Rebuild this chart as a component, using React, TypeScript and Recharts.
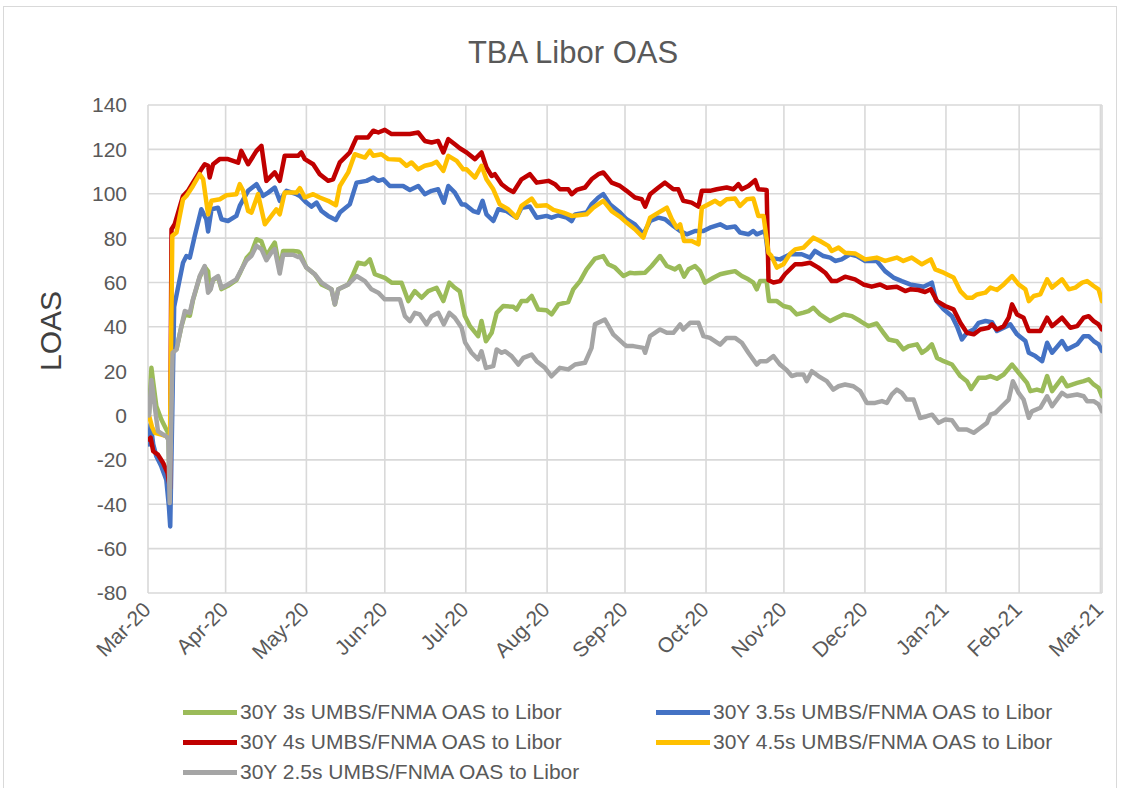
import React from "react";
import { LineChart, Line, XAxis, YAxis, CartesianGrid } from "recharts";

// x = position on the date axis, in days after 1 Mar 2020
const monthTicks = [0, 29.7, 60.6, 90.6, 121.6, 152.7, 182.5, 213.5, 243.3, 274.3, 305.3, 333.3, 364.4];
const monthLabels = ["Mar-20", "Apr-20", "May-20", "Jun-20", "Jul-20", "Aug-20", "Sep-20", "Oct-20", "Nov-20", "Dec-20", "Jan-21", "Feb-21", "Mar-21"];
const yTicks = [-80, -60, -40, -20, 0, 20, 40, 60, 80, 100, 120, 140];

const green3s: number[][] = [
  [0.4, 1], [1.3, 21.5], [2, 15], [3.2, 4.2], [5.1, -1.8], [7, -6.3], [7.8, -8], [8.3, -37], [9.4, 28.5], [10.9, 30], [12.8, 40.3], [14.1, 45.5], [16, 45], [17.2, 52], [19.8, 62.5], [21.7, 67], [23, 65], [23.6, 56.5], [24.9, 61], [26.8, 62.5], [28.1, 57], [30.6, 58.5], [33.8, 61], [35.1, 64], [37.7, 71], [39.6, 73.5], [41.5, 79.5], [43.4, 78.5], [45.3, 72], [47.2, 75.7], [48.5, 78], [50.4, 66], [51.7, 74.2], [55.5, 74.2], [57.4, 74],
  [58.1, 73.4], [60.6, 66.7], [63.8, 63.7], [66.4, 59.1], [70.2, 56.9], [71.5, 50.1], [72.8, 56.9], [76.6, 59.1], [78.5, 63.7], [80.4, 68.9], [83, 68.2], [84.9, 70.4], [86.8, 63.7], [90.6, 62.1], [93.2, 59.9], [97, 59.9], [99.6, 51.6], [102.1, 56.1], [104.7, 53.1], [107.2, 56.1], [110.4, 57.6], [113, 51.6], [115.3, 59.9], [117.4, 57.6], [119.3, 56], [121.2, 45], [123.2, 40.3], [126.3, 35.8], [127.6, 42.6], [129.3, 33.5], [131.5, 37.3], [133.4, 46.3], [135.9, 49.4], [139.8, 49], [141, 47.8], [142.9, 51.6], [144.9, 51.6], [146.8, 53.9], [149.3, 47.8], [152.5, 47.5], [154.4, 45.6], [157, 50.1], [160.8, 51.2], [162.7, 56.9], [165.3, 60.6], [167.8, 65.9], [171, 70.7], [174.2, 71.9], [176.1, 68.2], [178.7, 66.7], [181.9, 62.9], [184.4, 64.4],
  [186.3, 64.1], [190.2, 64.4], [192.7, 67.4], [195.9, 71.9], [198.5, 67.4], [201.6, 65.9], [203.3, 67.4], [205.1, 62.6], [206.8, 65.9], [209.3, 67.4], [211.2, 65.1], [213.1, 59.9], [216.3, 62.1], [218.9, 63.7], [221.4, 64.4], [224.6, 65.1], [227.2, 62.9], [229.7, 61.4], [231.6, 59.9], [232.9, 56.9], [234.2, 60.6], [236.7, 60.6], [237.6, 51.6], [240.6, 51.6], [243.1, 49.4], [245.7, 48.6], [248.2, 45.6], [250.8, 46.4], [252.7, 47.1], [254.6, 48.6], [257.1, 45.6], [261, 42.6], [263.5, 44.1], [266.1, 45.6], [269.3, 44.8], [272.5, 42.6], [275.6, 40.3], [278.8, 41.5], [281.4, 37.3], [283.3, 34.3], [286.5, 33.5], [289, 29.8], [291, 31.3], [294.2, 32.1], [296.1, 28.3], [298, 29.8], [299.9, 32.1],
  [301.9, 26], [304.4, 24.5], [307.6, 23], [310.8, 17.8], [313.3, 15.5], [314.9, 12], [317.8, 17], [320.4, 17], [322.3, 17.8], [324.8, 16.6], [327.4, 18.5], [330.6, 23], [333.1, 19.3], [336.3, 14.7], [337.6, 11], [340.1, 11.7], [342.1, 11], [344, 17.8], [345.9, 11], [349.7, 17], [351.6, 13.2], [355.5, 14.7], [358, 15.5], [359.9, 16.3], [361.8, 14], [363.7, 12.5], [365, 8.7],
];

const blue35s: number[][] = [
  [0.4, -13], [1, -4], [2, -13], [3.2, -18.4], [5.1, -22.9], [7, -28.9], [8, -41], [8.5, -50], [10, 49], [13.4, 68.9], [14.7, 71.9], [16, 71.2], [17.9, 81], [20.4, 93], [22.3, 88.5], [23, 83], [24.3, 93], [26.8, 93.7], [28.1, 88.5], [30.6, 87.7], [33.8, 90], [35.1, 94.5], [38.3, 101.3], [41.5, 104.3], [44, 99], [46, 100.5], [48.5, 102.8], [50.4, 96.8], [53, 101.3], [56.8, 99.8],
  [58.1, 99], [60.6, 96], [62.5, 94.2], [64.5, 96], [66.4, 92.2], [68.9, 90], [71.9, 88.2], [73.4, 91.5], [77.2, 95.2], [79.8, 105], [83.6, 105.8], [86.2, 107.3], [88.1, 105.8], [90, 106.5], [92.5, 103.5], [97.6, 103.5], [100.2, 101.7], [103.4, 103.5], [105.9, 99.8], [108.5, 101.3], [111, 102], [113.2, 96], [114.9, 103.5], [117.4, 100.5], [120, 95.2], [121.2, 95.2], [124.4, 92.2], [126.3, 91.5], [128, 96.8], [129.5, 90.7], [132.1, 87.7], [134, 93], [137.2, 92.2], [141, 89.2], [142.9, 93.7], [146.1, 94.2], [148.7, 89.2], [152.5, 90], [154.4, 89.2], [157, 90.3], [160.2, 89.2], [162.1, 87.7], [163.4, 90.7], [167.8, 91.5], [169.7, 95.2], [172.3, 98.3], [174.2, 99.8], [176.8, 95.2], [180.6, 91.5], [183.1, 88.5],
  [186.3, 86.2], [189.5, 81.7], [192.1, 87.7], [195.3, 89.2], [197.8, 88.5], [201, 85.5], [203.6, 83.2], [206.1, 81.7], [209.3, 83.2], [212.5, 83.2], [215, 84.7], [218.9, 86.2], [221.4, 84.7], [224.6, 85.2], [226.5, 82.5], [229.7, 81.7], [231.6, 83.2], [232.9, 81.7], [236.1, 83.2], [237.4, 71.2], [241.8, 70.4], [245.7, 72.7], [250.1, 72.7], [253.3, 71.2], [255.2, 74.2], [258.4, 71.9], [261, 71.2], [262.9, 69.7], [265.4, 70.4], [268.6, 72.7], [271.2, 71.9], [274.4, 69.7], [278.8, 69.7], [282, 65.1], [285.2, 62.2], [288.4, 60.6], [291.6, 59.1], [296.7, 58.1], [299.9, 59.9],
  [301.5, 52], [304.4, 47.9], [307.6, 44.8], [309.5, 40.3], [311.4, 34.3], [313.3, 37.3], [315.9, 38.8], [317.8, 41.8], [320.4, 42.6], [322.9, 42.1], [324.8, 38.1], [327.4, 39.6], [329.9, 41.1], [332.5, 36.6], [335.7, 33.6], [337, 28.3], [339.5, 26.8], [342.1, 24.5], [344, 32.8], [345.9, 28.3], [349.7, 33.6], [351.6, 29.8], [355.5, 32.1], [358, 35.8], [359.9, 35.8], [361.8, 33.6], [363.7, 32.1], [365, 29.1],
];

const red4s: number[][] = [
  [0.4, -10.8], [1, -10], [2, -16.1], [3.8, -17.6], [5.8, -21.4], [7.5, -26], [8.4, -33], [9, 84], [10.2, 86.2], [13.4, 99], [15.3, 101.3], [17.2, 105], [20.4, 111], [21.7, 113.3], [23, 112.6], [23.6, 107.3], [24.9, 113.3], [27.4, 115.6], [30.6, 115.6], [34.5, 114], [35.7, 119.3], [38.3, 113.3], [41.5, 119.3], [43.4, 121.6], [45.3, 105.8], [48.5, 109.6], [50.4, 105.8], [52.3, 117.1], [57.4, 117.1], [58.7, 118.6],
  [60, 115.6], [63.2, 113.3], [65.7, 108.8], [68.9, 105.8], [70.8, 106.5], [73.4, 114.1], [77.2, 118.6], [79.8, 125.4], [84.2, 125.4], [86.2, 128.4], [88.1, 127.6], [90.6, 128.8], [93.2, 126.9], [100.2, 126.9], [103.4, 127.6], [105.9, 123.8], [108.5, 123.1], [111, 123.8], [113, 118.6], [114.9, 124.6], [117.4, 122.3], [119.3, 120.5], [121.9, 118.6], [125.1, 115.6], [127.6, 118.6], [129.5, 111.8], [131.5, 108], [132.7, 108.8], [135.3, 104.3], [137.8, 102], [139.8, 100.8], [142.9, 106.5], [146.1, 108.8], [148.7, 105], [153.2, 105.8], [155.7, 104.3], [157.6, 102], [160.8, 102], [162.1, 99.8], [164, 101.7], [167.2, 102.8], [169.7, 106.5], [172.3, 108.8], [174.2, 109.6], [177.4, 105], [180.6, 103.5], [183.1, 101.3],
  [186.3, 98.3], [188.9, 97.5], [190.2, 94.2], [192.1, 99.8], [195.3, 102.8], [197.8, 105], [201, 102], [202.9, 102], [204.8, 96.8], [208, 96], [210.6, 94.2], [211.9, 101.3], [215, 101.3], [217.6, 102], [221.4, 102.8], [224, 102], [225.9, 104.3], [227.2, 102], [229.7, 103.5], [232.3, 106.1], [233.5, 102], [236.7, 101.7], [237.4, 61], [239.3, 60], [241.8, 60.6], [243.7, 63.7], [247.6, 68.2], [250.1, 68.2], [253.3, 68.9], [256.5, 66.7], [259.1, 64.4], [261.6, 60.6], [263.5, 60.6], [266.7, 62.6], [270.5, 61.4], [273.7, 59.1], [276.9, 58.1], [280.1, 59.1], [282.7, 57.6], [286.5, 58.1], [289.7, 56.1], [291.6, 56.9], [294.8, 56.6], [297.3, 55.7], [299.5, 56.9],
  [301.9, 51.6], [305, 49.4], [308.2, 47.9], [310.8, 41.8], [313.3, 37.3], [315.9, 36.6], [318.4, 38.8], [321.6, 39.6], [322.9, 41.1], [324.8, 38.8], [327.4, 40.3], [329.3, 44.1], [330.6, 50.1], [332.5, 45.6], [335, 44.1], [337, 38.1], [341.4, 38.1], [344, 44.1], [345.9, 40.3], [349.7, 44.1], [352.9, 39.6], [355.5, 40.3], [358, 44.1], [359.9, 44.8], [361.8, 42.6], [363.7, 41.1], [365, 38.8],
];

const yellow45s: number[][] = [
  [0.4, 0], [1.5, -5], [2.6, -7.8], [5.1, -8.6], [7, -9.3], [8.4, -11], [9.3, 81], [10.9, 82.5], [13.4, 97.5], [14.7, 99], [17.2, 103.5], [19.8, 108.8], [21.1, 106.5], [23, 90.7], [24.3, 96.8], [27.5, 97.5], [30, 99.3], [33.8, 99.8], [35.1, 104.3], [36.4, 101.3], [38.3, 92.2], [39.6, 91.5], [42.1, 99.8], [44.7, 86.2], [47.2, 90], [49.1, 93], [50.4, 90.7], [52.3, 100.5], [56.8, 100.5],
  [58.1, 102.5], [60, 98.3], [63.2, 99.8], [65.7, 98.3], [68.9, 96.8], [71.9, 94.8], [73.4, 103.5], [76.6, 109.6], [79.1, 117.8], [83, 116.3], [84.9, 119.3], [86.2, 117.1], [89.3, 117.8], [91.9, 115.6], [96.4, 115.3], [98.9, 112.6], [100.8, 114.1], [103.4, 111], [105.9, 112.6], [108.5, 113.3], [110.4, 114.4], [113, 110.3], [114.9, 117.1], [118.1, 114.8], [120.6, 111], [121.9, 111], [125.1, 107.3], [127.6, 112.6], [129.5, 106.5], [132.1, 102], [134.6, 95.2], [137.8, 93], [141, 89.2], [142.9, 94.5], [146.8, 97.8], [148.7, 94.5], [152.5, 94.8], [155.1, 92.7], [158.9, 91.5], [162.1, 90], [167.8, 90.7], [170.4, 93.7], [174.2, 96.8], [177.4, 92.2], [180.6, 89.6], [183.1, 87],
  [186.3, 84], [189.5, 80.2], [192.1, 89.2], [195.3, 91.5], [198.5, 93.7], [200.4, 88.5], [202.3, 84.7], [203.6, 86.2], [205.1, 78.7], [208, 78.7], [210.6, 77.2], [211.9, 93.7], [214.4, 95.2], [217, 96.8], [218.9, 95.2], [221.4, 97.5], [224.6, 97.8], [226.5, 94.5], [229.1, 97.5], [231.6, 97.8], [233.5, 90], [235.5, 90], [237.4, 73.4], [238.5, 72], [240.6, 66.7], [243.1, 68.2], [245.7, 73], [247.6, 74.9], [250.8, 75.7], [254.6, 80.2], [257.1, 78.7], [260.3, 76.5], [261.6, 74.2], [264.2, 75.7], [266.7, 73.4], [270.5, 73.1], [274.4, 70.4], [278.8, 71.2], [282, 69.7], [286.5, 71.2], [289, 69.7], [292.2, 71.2], [296.1, 68.2], [299.5, 70.4],
  [301.2, 65.9], [304.4, 64.4], [308.2, 62.2], [310.8, 56.1], [313.3, 53.1], [315.3, 53.1], [317.2, 54.6], [320.4, 55.4], [322.3, 57.7], [324.8, 56.6], [327.4, 59.1], [330.6, 62.9], [333.1, 59.1], [335.7, 56.9], [337, 51.6], [338.9, 53.9], [341.4, 54.6], [344, 61.4], [345.9, 57.7], [349.7, 61.4], [352.3, 56.9], [354.8, 57.7], [357.4, 59.9], [359.3, 60.6], [361.8, 58.4], [363.7, 56.9], [365, 51.6],
];

const gray25s: number[][] = [
  [0.4, 0], [1.3, 16], [2.6, 4], [3.8, -7], [5.8, -8.6], [7, -9.3], [7.8, -11], [8.3, -39.4], [9.4, 28.3], [10.9, 29.8], [12.8, 40.3], [14.1, 47.1], [16, 46.3], [17.2, 52.4], [19.8, 62.9], [21.7, 67.4], [23, 55.4], [24, 57], [24.9, 61.4], [26.8, 62.9], [28.1, 57.6], [30.6, 59.1], [33.8, 61.4], [35.1, 64.4], [37.7, 70], [39.6, 72], [41.5, 76.5], [43.4, 75], [45.3, 70], [47.2, 73.5], [48.5, 75], [50.4, 64], [51.7, 72.5], [55.5, 72.5], [57.4, 71.5],
  [58.1, 71.9], [60.6, 66.7], [63.8, 63.7], [66.4, 59.9], [70.2, 56.9], [71.5, 50.1], [72.8, 56.9], [76.6, 59.1], [79.8, 62.9], [83, 60.6], [85.5, 56.9], [88.1, 55.4], [90.6, 52.4], [96.4, 52.4], [98.3, 44.8], [100.2, 42.6], [102.1, 46.3], [104, 45.6], [106.6, 41.1], [108.5, 44.8], [111, 46.3], [113.2, 41.1], [115.3, 46.3], [117.4, 44.1], [120, 39.6], [121.3, 33], [123.8, 28.3], [126.3, 25.3], [127.6, 29], [129.3, 21.5], [132.1, 22.3], [133.4, 29.8], [135.3, 28.3], [136.6, 29], [139.1, 26.8], [141.7, 23], [143.6, 26], [146.8, 27.5], [148.7, 24.5], [151.9, 21.5], [154.4, 17.7], [157.6, 21.5], [160.8, 20.8], [163.4, 23], [167.2, 23.8], [169.7, 30.5], [171, 41.1], [174.8, 43.3], [178, 36.6], [181.9, 32.4],
  [183.1, 31.3], [185.7, 31.3], [189.5, 30.5], [190.2, 28.3], [192.1, 35.8], [195.9, 38.8], [198.5, 37.3], [201, 37.3], [203.6, 41.1], [204.8, 38.8], [207.4, 41.8], [210.6, 41.8], [212.5, 35.8], [215, 35], [218.9, 32], [221.4, 35], [224.6, 35], [227.2, 32.8], [229.7, 28.3], [232.9, 23], [234.2, 24.5], [236.7, 24.5], [239.3, 26.8], [241.8, 23], [244.4, 20.4], [246.3, 17.8], [248.2, 18.5], [250.8, 18.5], [252, 15.5], [254, 20], [256.5, 17.8], [259.7, 15.5], [262.2, 11.7], [264.2, 13.2], [266.7, 14], [269.9, 13.2], [272.5, 11], [275, 5.7], [278.2, 5.7], [280.8, 6.5], [282.7, 5.7], [284.6, 9.5], [286.5, 11.7], [288.4, 10.2], [290.3, 7.2], [292.9, 7.2], [295.4, -1.1], [298, -0.3], [300, 0.4],
  [302.5, -3.3], [305, -1.8], [307.6, -2.1], [310.1, -6.3], [313.3, -6.3], [315.9, -7.8], [318.4, -5.6], [321, -3.3], [322.3, 0.4], [324.2, 1.2], [326.7, 4.2], [329.3, 7.2], [330.9, 15.5], [333.1, 10.2], [335, 7.2], [337, -1], [338.2, 1.9], [341.4, 3.5], [344, 8.7], [345.9, 4.2], [349.7, 10.2], [351.6, 8.7], [355.5, 9.5], [358, 8.7], [359.3, 6.5], [361.8, 6.5], [363.7, 5], [365, 2],
];

const seriesNames = [
  "30Y 3s UMBS/FNMA OAS to Libor",
  "30Y 3.5s UMBS/FNMA OAS to Libor",
  "30Y 4s UMBS/FNMA OAS to Libor",
  "30Y 4.5s UMBS/FNMA OAS to Libor",
  "30Y 2.5s UMBS/FNMA OAS to Libor",
];
const seriesColors = ["#9BBB59", "#4472C4", "#C00000", "#FFC000", "#A5A5A5"];
const seriesValues = [green3s, blue35s, red4s, yellow45s, gray25s];

const FONT = "'Liberation Sans', Arial, sans-serif";
const TEXT = "#595959";

const toRows = (pts: number[][]) => pts.map(([t, v]) => ({ t, v }));

const XTick = (props: any) => {
  const { x, y, payload } = props;
  const i = monthTicks.indexOf(payload.value);
  const ax = x + 4;
  const ay = y + 18;
  return (
    <text x={ax} y={ay} transform={`rotate(-45 ${ax} ${ay})`} textAnchor="end" fill={TEXT} fontSize={21} fontFamily={FONT}>
      {i >= 0 ? monthLabels[i] : ""}
    </text>
  );
};

const legendPos = [
  [183, 712], [656, 712], [183, 742], [656, 742], [183, 772],
];

export default function App() {
  return (
    <div style={{ position: "absolute", left: 0, top: 0, width: 1124, height: 788, background: "#fff", fontFamily: FONT, overflow: "hidden" }}>
      <div style={{ position: "absolute", left: 3, top: 6, width: 1114, height: 800, border: "1px solid #d9d9d9", boxSizing: "border-box" }} />
      <div style={{ position: "absolute", left: 0, top: 0 }}>
        <LineChart width={1124} height={788} margin={{ top: 105, right: 22, bottom: 0, left: 0 }}>
          <CartesianGrid stroke="#d9d9d9" strokeWidth={1.6} />
          <XAxis
            type="number"
            dataKey="t"
            domain={[0, 365]}
            ticks={monthTicks}
            interval={0}
            height={195}
            tickSize={0}
            tickMargin={0}
            axisLine={false}
            tickLine={false}
            tick={<XTick />}
            allowDataOverflow
          />
          <YAxis
            type="number"
            domain={[-80, 140]}
            ticks={yTicks}
            interval={0}
            width={148}
            tickSize={0}
            tickMargin={21}
            axisLine={false}
            tickLine={false}
            tick={{ fill: TEXT, fontSize: 21, fontFamily: FONT }}
          />
          {seriesValues.map((vals, i) => (
            <Line
              key={seriesNames[i]}
              data={toRows(vals)}
              dataKey="v"
              name={seriesNames[i]}
              type="linear"
              stroke={seriesColors[i]}
              strokeWidth={4.5}
              strokeLinejoin="round"
              strokeLinecap="round"
              dot={false}
              activeDot={false}
              isAnimationActive={false}
            />
          ))}
          <text x={573} y={63} textAnchor="middle" fill={TEXT} fontSize={31} fontFamily={FONT}>TBA Libor OAS</text>
          <text x={61} y={331} transform="rotate(-90 61 331)" textAnchor="middle" fill="#404040" fontSize={30} fontFamily={FONT}>LOAS</text>
        </LineChart>
      </div>
      {seriesNames.map((name, i) => (
        <div key={name} style={{ position: "absolute", left: legendPos[i][0], top: legendPos[i][1] - 14, height: 28, display: "flex", alignItems: "center", whiteSpace: "nowrap" }}>
          <div style={{ width: 54, height: 5, background: seriesColors[i], marginRight: 3 }} />
          <span style={{ fontSize: 21, color: TEXT, fontFamily: FONT }}>{name}</span>
        </div>
      ))}
    </div>
  );
}
